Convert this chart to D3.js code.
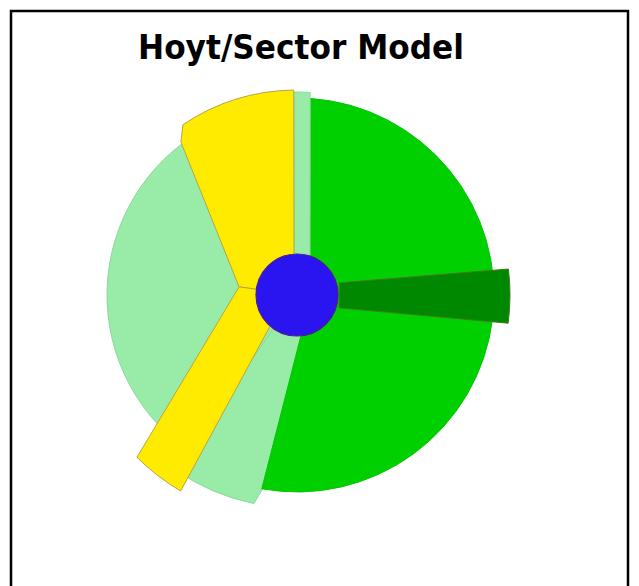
<!DOCTYPE html>
<html>
<head>
<meta charset="utf-8">
<script src="https://cdn.jsdelivr.net/npm/d3@7"></script>
<style>
body { margin: 0; background: #fff; }
</style>
</head>
<body>
<svg id="chart"></svg>
<script>
var width = 639;
var height = 586;

var title = "Hoyt/Sector Model";

// one entry per drawn sector, in drawing order
var zones = ["Low-class residential", "Low-class residential", "Middle-class residential",
             "Low-class residential", "High-class residential", "High-class residential",
             "Wholesale / light manufacturing"];
// outer edge of each sector, degrees clockwise from north
var startAngles = [205, 191.7, 4, -0.85, -33.8, 210.7, 83];
var endAngles   = [323, 215, 190.3, 3.7, -0.9, 224.6, 97.6];
// how far each sector reaches from the centre
var reach = [190, 213, 197, 203, 205, 228, 213];
// inner corners [angle, reach], walked from the end of the outer edge back to its start
var corners = [
    [[0, 0]],
    [[0, 0], [175, 42], [189, 188]],
    [[175, 42], [19, 42]],
    [[18, 42], [-4, 42]],
    [[-4.1, 42], [0, 0], [-82, 58.5], [-37.2, 192]],
    [[-82, 58.5], [0, 0], [220.6, 42]],
    [[107, 44], [74, 44]]
];
// central business district
var cbdReach = 41;

var center = {x: 297, y: 295};

var color = d3.scaleOrdinal()
    .domain(["Low-class residential", "Middle-class residential", "High-class residential",
             "Wholesale / light manufacturing", "CBD"])
    .range(["#99eca8", "#00d000", "#ffeb00", "#008800", "#2a14f0"]);
var edge = d3.scaleOrdinal()
    .domain(color.domain())
    .range(["#8cd89c", "#00c800", "#b8a448", "#3f7a20", "#4a1c9a"]);

var r = d3.scaleLinear().domain([0, 250]).range([0, 250]);

var svg = d3.select("#chart")
    .attr("width", width)
    .attr("height", height);

svg.append("rect")
    .attr("x", 11)
    .attr("y", 11)
    .attr("width", 617)
    .attr("height", 620)
    .attr("fill", "white")
    .attr("stroke", "black")
    .attr("stroke-width", 2.5);

svg.append("text")
    .attr("x", 301)
    .attr("y", 59)
    .attr("text-anchor", "middle")
    .attr("font-family", "DejaVu Sans")
    .attr("font-weight", "bold")
    .attr("font-size", 33)
    .attr("textLength", 326)
    .attr("lengthAdjust", "spacingAndGlyphs")
    .attr("fill", "black")
    .text(title);

function polar(a, d) {
    var t = a * Math.PI / 180;
    return [r(d) * Math.sin(t), -r(d) * Math.cos(t)];
}

function sectorPath(i) {
    var p = d3.path();
    var s = polar(startAngles[i], reach[i]);
    p.moveTo(s[0], s[1]);
    // d3.path measures angles from the x axis
    p.arc(0, 0, r(reach[i]), (startAngles[i] - 90) * Math.PI / 180, (endAngles[i] - 90) * Math.PI / 180);
    corners[i].forEach(function(c) {
        var q = polar(c[0], c[1]);
        p.lineTo(q[0], q[1]);
    });
    p.closePath();
    return p.toString();
}

var g = svg.append("g")
    .attr("transform", "translate(" + center.x + "," + center.y + ")");

g.selectAll("path.sector")
    .data(zones)
    .enter().append("path")
    .attr("class", "sector")
    .attr("d", function(d, i) { return sectorPath(i); })
    .attr("fill", function(d) { return color(d); })
    .attr("stroke", function(d) { return edge(d); })
    .attr("stroke-width", 1)
    .attr("stroke-linejoin", "round");

g.append("circle")
    .attr("r", r(cbdReach))
    .attr("fill", color("CBD"))
    .attr("stroke", edge("CBD"))
    .attr("stroke-width", 1.2);
</script>
</body>
</html>
